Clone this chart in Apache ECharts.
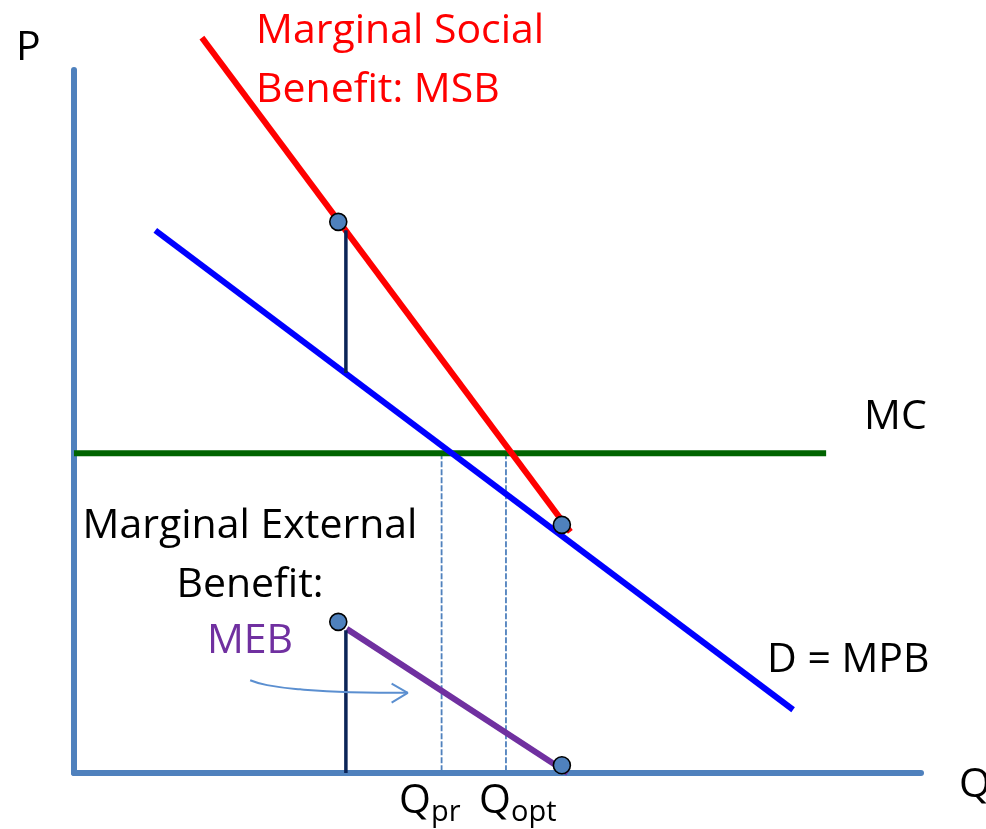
<!DOCTYPE html>
<html>
<head>
<meta charset="utf-8">
<title>Positive externality - MSB / MPB / MEB</title>
<script src="https://cdn.jsdelivr.net/npm/echarts@6/dist/echarts.min.js"></script>
<style>
    html, body { margin: 0; padding: 0; background: #fff; }
    #chart { width: 986px; height: 829px; }
</style>
</head>
<body>
<div id="chart"></div>
<script>
    // curves, in (Q, P) units: Q 0..100, P 0..100
    var msbLine = [[15.1, 104.6], [58.6, 34.3]];
    var mpbLine = [[9.6, 77.2], [84.9, 9.0]];
    var mcLine = [[0, 45.5], [88.8, 45.5]];
    var mebLine = [[32.2, 20.5], [58.3, 0]];
    // vertical gaps MSB - MPB and MEB - axis
    var gapTop = [[32.1, 77.2], [32.1, 56.9]];
    var gapBottom = [[32.1, 20.3], [32.1, 0]];
    // quantities
    var qPrivate = 43.4;
    var qOptimal = 51.0;
    var mcPrice = 45.5;
    var dots = [[31.2, 78.4], [57.6, 35.3], [31.2, 21.5], [57.6, 1.1]];
    // little arrow pointing at MEB
    var arrowCurve = [[20.8, 13.2], [22.8, 12.5], [26.7, 11.9], [32.6, 11.5], [39.4, 11.4]];
    var arrowHead = [[37.5, 12.7], [39.4, 11.4], [37.5, 10.0]];

    var FONT = '"Open Sans", "Noto Sans", sans-serif';
    var AXIS_BLUE = '#4f81bd';

    function seg(data, color, width, z, extra) {
        var s = {
            type: 'line',
            data: data,
            showSymbol: false,
            symbol: 'none',
            clip: false,
            silent: true,
            z: z,
            lineStyle: { color: color, width: width, cap: 'butt' }
        };
        if (extra) {
            for (var k in extra) { s.lineStyle[k] = extra[k]; }
        }
        return s;
    }

    function txt(x, y, text, color, size, align) {
        return {
            type: 'text',
            x: x,
            y: y,
            style: {
                text: text,
                fill: color || '#000',
                font: (size || 41) + 'px ' + FONT,
                textAlign: align || 'left',
                textVerticalAlign: 'middle'
            }
        };
    }

    var option = {
        animation: false,
        grid: { left: 74, right: 65, top: 70, bottom: 56 },
        xAxis: {
            type: 'value', min: 0, max: 100,
            axisLine: { show: true, lineStyle: { color: AXIS_BLUE, width: 6 } },
            axisTick: { show: false }, axisLabel: { show: false }, splitLine: { show: false }
        },
        yAxis: {
            type: 'value', min: 0, max: 100,
            axisLine: { show: true, lineStyle: { color: AXIS_BLUE, width: 6 } },
            axisTick: { show: false }, axisLabel: { show: false }, splitLine: { show: false }
        },
        series: [
            seg([[qPrivate, mcPrice], [qPrivate, 0]], AXIS_BLUE, 1.8, 3, { type: [6, 2] }),
            seg([[qOptimal, mcPrice], [qOptimal, 0]], AXIS_BLUE, 1.8, 3, { type: [6, 2] }),
            seg(mcLine, '#006400', 6, 4),
            seg(mpbLine, '#0000ff', 6, 5),
            seg(msbLine, '#ff0000', 6, 6),
            seg(mebLine, '#7030a0', 6, 6),
            seg(gapTop, '#0b2457', 3.5, 7),
            seg(gapBottom, '#0b2457', 3.5, 7),
            seg(arrowCurve, '#5b8fd0', 2, 7),
            seg(arrowHead, '#5b8fd0', 2, 7),
            {
                type: 'scatter',
                data: dots,
                symbol: 'circle',
                symbolSize: 17,
                silent: true,
                clip: false,
                z: 10,
                itemStyle: { color: '#4f81bd', borderColor: '#000', borderWidth: 1.6, opacity: 1 }
            }
        ],
        graphic: [
            txt(16, 48, 'P'),
            txt(256, 31, 'Marginal Social', '#ff0000'),
            txt(256, 90, 'Benefit: MSB', '#ff0000'),
            txt(864, 417, 'MC'),
            txt(767, 660, 'D = MPB'),
            txt(250, 526, 'Marginal External', '#000', 41, 'center'),
            txt(250, 585, 'Benefit:', '#000', 41, 'center'),
            txt(250, 641, 'MEB', '#7030a0', 41, 'center'),
            txt(959, 785, 'Q'),
            txt(399, 801, 'Q'),
            txt(431, 813, 'pr', '#000', 29),
            txt(479, 801, 'Q'),
            txt(511, 813, 'opt', '#000', 29)
        ]
    };
    option.series[8].smooth = true;

    var chart = echarts.init(document.getElementById('chart'));
    chart.setOption(option);
</script>
</body>
</html>
